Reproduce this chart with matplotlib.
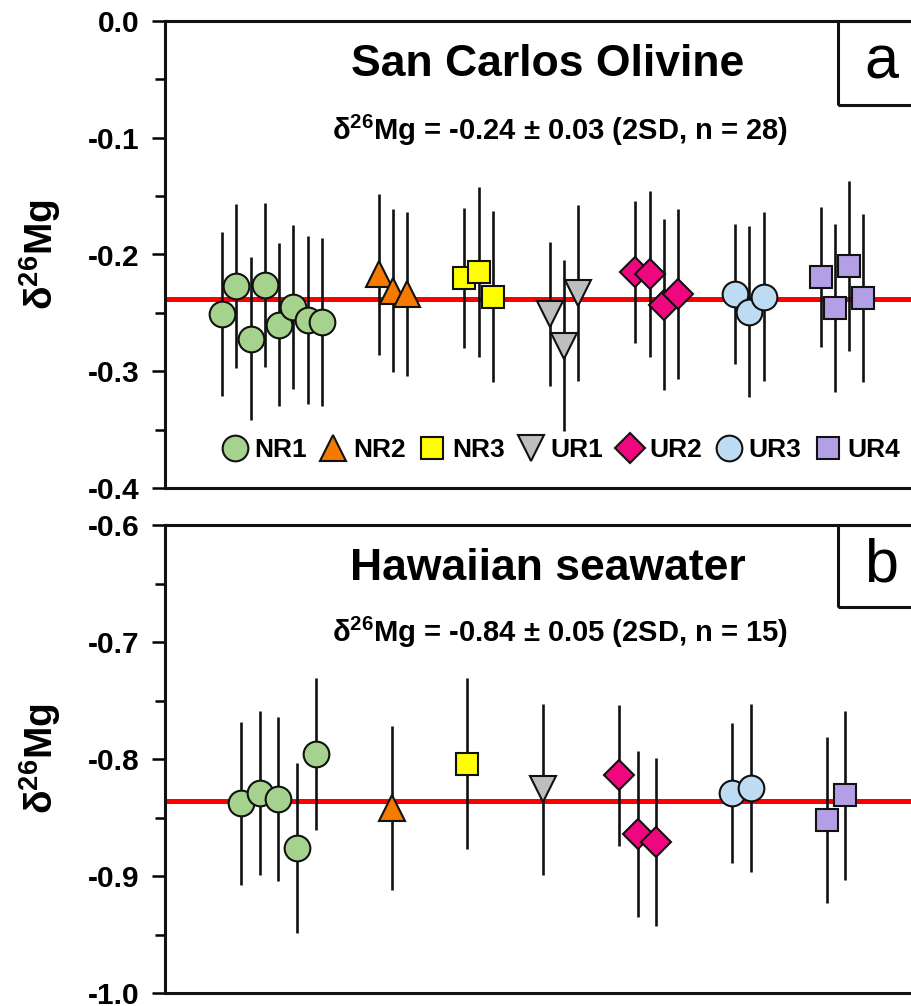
import matplotlib
matplotlib.use("Agg")
import matplotlib.pyplot as plt
from matplotlib.patches import Rectangle
from matplotlib.ticker import MultipleLocator, FormatStrFormatter

plt.rcParams['font.family'] = ['Liberation Sans', 'DejaVu Sans']
plt.rcParams['font.weight'] = 'bold'
plt.rcParams['mathtext.fontset'] = 'custom'
plt.rcParams['mathtext.rm'] = 'Liberation Sans:bold'
plt.rcParams['mathtext.bf'] = 'Liberation Sans:bold'
plt.rcParams['axes.unicode_minus'] = False

#---------------- data ----------------#
groups = ['NR1', 'NR2', 'NR3', 'UR1', 'UR2', 'UR3', 'UR4']
markers = ['o', '^', 's', 'v', 'D', 'o', 's']
colors = ['#A5D28C', '#F57A00', '#FFFF00', '#BEBEBE', '#F0077F', '#BDDCF4', '#B39FE5']
msizes = [18.5, 19, 16, 19, 15.5, 18.5, 16]

# San Carlos olivine (sample slot, delta26Mg, 2SD)
sc_x = [[4, 5, 6, 7, 8, 9, 10, 11],
        [15, 16, 17],
        [21, 22, 23],
        [27, 28, 29],
        [33, 34, 35, 36],
        [40, 41, 42],
        [46, 47, 48, 49]]
sc_y = [[-0.251, -0.227, -0.272, -0.226, -0.260, -0.245, -0.256, -0.258],
        [-0.217, -0.231, -0.234],
        [-0.220, -0.215, -0.236],
        [-0.251, -0.278, -0.233],
        [-0.215, -0.217, -0.243, -0.234],
        [-0.234, -0.249, -0.236],
        [-0.219, -0.246, -0.210, -0.237]]
sc_err = [[0.07, 0.07, 0.07, 0.07, 0.07, 0.07, 0.072, 0.072],
          [0.069, 0.07, 0.07],
          [0.06, 0.073, 0.073],
          [0.062, 0.073, 0.075],
          [0.061, 0.071, 0.073, 0.073],
          [0.06, 0.073, 0.072],
          [0.06, 0.072, 0.073, 0.072]]
sc_mean = -0.238

# Hawaiian seawater
sw_x = [[4, 5, 6, 7, 8], [12], [16], [20], [24, 25, 26], [30, 31], [35, 36]]
sw_y = [[-0.838, -0.829, -0.834, -0.876, -0.796],
        [-0.842], [-0.804], [-0.826],
        [-0.814, -0.864, -0.871],
        [-0.829, -0.825],
        [-0.852, -0.831]]
sw_err = [[0.07, 0.07, 0.07, 0.073, 0.065],
          [0.07], [0.073], [0.073],
          [0.06, 0.071, 0.072],
          [0.06, 0.072],
          [0.071, 0.072]]
sw_mean = -0.836

fig = plt.figure(figsize=(9.11, 10.06), dpi=100)
W, H = 911, 1006
axL, axR = 165, 960


def make_ax(top, bot, ylim, xmax):
    ax = fig.add_axes([axL / W, 1 - bot / H, (axR - axL) / W, (bot - top) / H])
    ax.set_ylim(*ylim)
    ax.set_xlim(0, xmax)
    ax.set_xticks([])
    ax.yaxis.set_major_locator(MultipleLocator(0.1))
    ax.yaxis.set_minor_locator(MultipleLocator(0.05))
    ax.yaxis.set_major_formatter(FormatStrFormatter('%.1f'))
    ax.tick_params(axis='y', which='major', direction='out', length=9.5, width=1.8,
                   labelsize=21.5, pad=9)
    ax.tick_params(axis='y', which='minor', direction='out', length=7, width=1.8)
    for s in ax.spines.values():
        s.set_linewidth(2.2)
        s.set_color('#111111')
    for lab in ax.get_yticklabels():
        lab.set_fontweight('bold')
    return ax


def draw(ax, xs, ys, errs, mean):
    ax.axhline(mean, color='red', lw=3.6, zorder=1)
    handles = []
    for i in range(len(groups)):
        ax.errorbar(xs[i], ys[i], yerr=errs[i], fmt='none', ecolor='#111111',
                    elinewidth=1.9, capsize=0, zorder=2)
        h, = ax.plot(xs[i], ys[i], linestyle='none', marker=markers[i],
                     ms=msizes[i], mfc=colors[i], mec='#111111', mew=1.5,
                     zorder=3, label=groups[i])
        handles.append(h)
    return handles


def label_box(ax, letter, ybot):
    x0 = (838 - axL) / (axR - axL)
    ax.add_patch(Rectangle((x0, ybot), 1 - x0, 1 - ybot, transform=ax.transAxes,
                           fill=False, lw=2.2, ec='#111111', clip_on=False, zorder=5))
    ax.text((881 - axL) / (axR - axL), ybot + (1 - ybot) / 2, letter,
            transform=ax.transAxes, ha='center', va='center', fontsize=44,
            fontweight='normal')


#---------------- panel a ----------------#
ax1 = make_ax(21, 488, (-0.4, 0.0), (axR - axL) / 14.25)
h1 = draw(ax1, sc_x, sc_y, sc_err, sc_mean)
cx = (548 - axL) / (axR - axL)
cx2 = (560 - axL) / (axR - axL)
ax1.text(cx, 0.906, 'San Carlos Olivine', transform=ax1.transAxes,
         ha='center', va='center', fontsize=32, fontweight='bold')
ax1.text(cx2, 0.765, r'δ$^{\mathbf{26}}$Mg = -0.24 ± 0.03 (2SD, n = 28)',
         transform=ax1.transAxes, ha='center', va='center', fontsize=21,
         fontweight='bold')
label_box(ax1, 'a', 0.8205)
leg = ax1.legend(handles=h1, loc='center', bbox_to_anchor=(0.498, 0.081), ncol=7,
                 frameon=False, handlelength=1.0, handletextpad=0.25,
                 columnspacing=0.5, borderaxespad=0,
                 prop={'size': 19, 'weight': 'bold'})
ax1.text((40 - axL) / (axR - axL), 0.5, r'δ$^{\mathbf{26}}$Mg', transform=ax1.transAxes,
         rotation=90, ha='center', va='center', fontsize=28, fontweight='bold')

#---------------- panel b ----------------#
ax2 = make_ax(525, 993, (-1.0, -0.6), (axR - axL) / 18.9)
draw(ax2, sw_x, sw_y, sw_err, sw_mean)
ax2.text(cx, 0.908, 'Hawaiian seawater', transform=ax2.transAxes,
         ha='center', va='center', fontsize=32, fontweight='bold')
ax2.text(cx2, 0.771, r'δ$^{\mathbf{26}}$Mg = -0.84 ± 0.05 (2SD, n = 15)',
         transform=ax2.transAxes, ha='center', va='center', fontsize=21,
         fontweight='bold')
label_box(ax2, 'b', 0.825)
ax2.text((40 - axL) / (axR - axL), 0.5, r'δ$^{\mathbf{26}}$Mg', transform=ax2.transAxes,
         rotation=90, ha='center', va='center', fontsize=28, fontweight='bold')

fig.savefig('out.png', dpi=100)
